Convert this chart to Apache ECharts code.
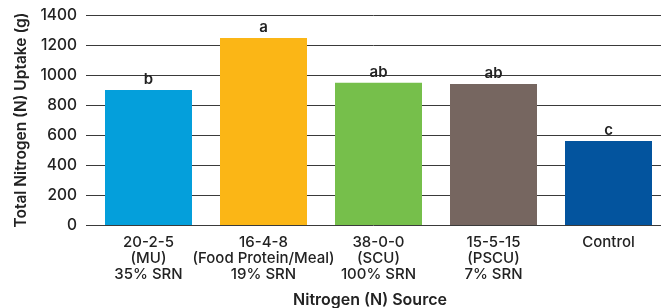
<!DOCTYPE html>
<html>
<head>
<meta charset="utf-8">
<script src="https://cdn.jsdelivr.net/npm/echarts@6/dist/echarts.min.js"></script>
<style>html,body{margin:0;padding:0;background:#fff;}#c{width:666px;height:308px;}</style>
</head>
<body>
<div id="c"></div>
<script>
const categories = ["20-2-5\n(MU)\n35% SRN", "16-4-8\n(Food Protein/Meal)\n19% SRN", "38-0-0\n(SCU)\n100% SRN", "15-5-15\n(PSCU)\n7% SRN", "Control"];
const uptake = [900, 1247, 949, 940, 560];
const letters = ["b", "a", "ab", "ab", "c"];
const barColors = ["#049fdb", "#fbb616", "#76bf4b", "#766660", "#03549e"];
const yTicks = [0, 200, 400, 600, 800, 1000, 1200, 1400];

const FONT = "Inter";
const chart = echarts.init(document.getElementById('c'));
chart.setOption({
  animation: false,
  grid: [
    {left: 86, right: 5, top: 15, bottom: 83},
    {left: 91, width: 575, top: 15, bottom: 83}
  ],
  xAxis: [
    {gridIndex: 0, type: 'value', show: false, min: 0, max: 1},
    {gridIndex: 1, type: 'category', data: categories,
     axisLine: {show: false}, axisTick: {show: false},
     axisLabel: {interval: 0, margin: 9, fontFamily: FONT, fontSize: 15, lineHeight: 16, color: '#222', fontWeight: 500}}
  ],
  yAxis: [
    {gridIndex: 0, type: 'value', min: yTicks[0], max: yTicks[yTicks.length-1], interval: 200,
     name: 'Total Nitrogen (N) Uptake (g)', nameLocation: 'middle', nameRotate: 90, nameGap: 56,
     nameTextStyle: {fontFamily: FONT, fontSize: 15.5, fontWeight: 600, color: '#222'},
     axisLine: {show: false}, axisTick: {show: false},
     axisLabel: {margin: 9, formatter: v => String(v), fontFamily: FONT, fontSize: 15.5, fontWeight: 500, color: '#222'},
     splitLine: {show: true, lineStyle: {color: '#3a3a3a', width: 1}}},
    {gridIndex: 1, type: 'value', min: yTicks[0], max: yTicks[yTicks.length-1], show: false}
  ],
  graphic: [
    {type: 'text', x: 370, y: 300, style: {text: 'Nitrogen (N) Source', textAlign: 'center', textVerticalAlign: 'middle', fontFamily: FONT, fontSize: 16, fontWeight: 600, fill: '#222'}}
  ],
  series: [{
    type: 'bar', xAxisIndex: 1, yAxisIndex: 1,
    barWidth: 87,
    data: uptake.map((v, i) => ({value: v, itemStyle: {color: barColors[i]}})),
    label: {show: true, position: 'top', distance: 3, formatter: p => letters[p.dataIndex],
            fontFamily: FONT, fontSize: 15, fontWeight: 600, color: '#222'}
  }]
});
</script>
</body>
</html>
